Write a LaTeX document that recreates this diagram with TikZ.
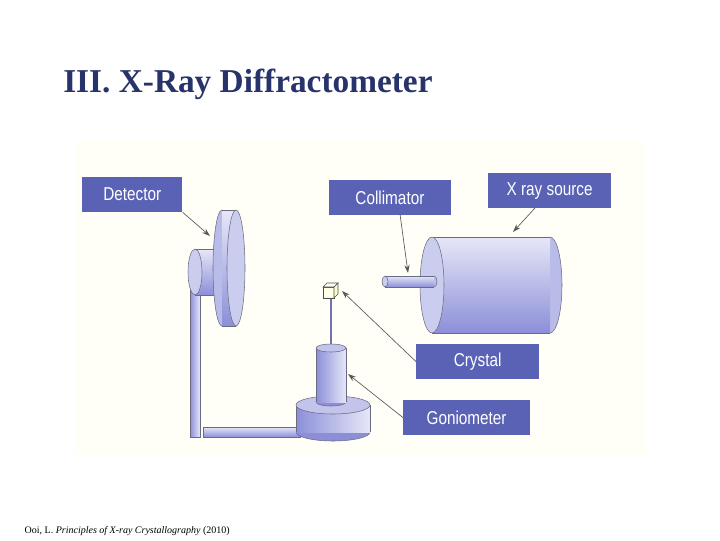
\documentclass[tikz,border=0pt]{standalone}
\usepackage{fontspec}
\setmainfont{Liberation Serif}
\newfontfamily\plainlab{Liberation Sans}[FakeStretch=0.82]
\usetikzlibrary{arrows.meta}
\definecolor{navy}{HTML}{27336A}
\definecolor{labblue}{HTML}{5A62B6}
\definecolor{cyl}{HTML}{8C8FD8}
\definecolor{cylL}{HTML}{E6E7F8}
\definecolor{edge}{HTML}{6A6A80}
% horizontal cylinder: x1 x2 cy rx ry ; front face drawn at #6
\newcommand{\myhcyl}[6]{%
  \fill[cylL!50!cyl,draw=edge] (#1+#2-#6,#3) ellipse (#4 and #5);
  \fill[top color=cylL,bottom color=cyl] (#1,#3-#5) rectangle (#2,#3+#5);
  \draw[edge] (#1,#3-#5) -- (#2,#3-#5) (#1,#3+#5) -- (#2,#3+#5);
  \fill[cylL!70!cyl,draw=edge] (#6,#3) ellipse (#4 and #5);}
% vertical cylinder: cx y1(top) y2(bottom) rx ry
\newcommand{\myvcyl}[5]{%
  \fill[cyl,draw=edge] (#1,#3) ellipse (#4 and #5);
  \fill[left color=cyl,right color=cylL] (#1-#4,#2) rectangle (#1+#4,#3);
  \draw[edge] (#1-#4,#2) -- (#1-#4,#3) (#1+#4,#2) -- (#1+#4,#3);
  \fill[cylL!60!cyl,draw=edge] (#1,#2) ellipse (#4 and #5);}
\begin{document}
\begin{tikzpicture}[x=0.75pt,y=-0.75pt,
  lab/.style={fill=labblue,text=white,font=\plainlab\fontsize{14}{15}\selectfont,inner sep=0pt,minimum height=26pt,anchor=north west},
  ptr/.style={draw=gray!70!black,line width=0.5pt,-{Stealth[length=6pt,width=4pt]}}]
\useasboundingbox (0,0) rectangle (720,540);
\fill[white] (0,0) rectangle (720,540);
\fill[yellow!3!white] (75,140) rectangle (645,455);
\node[anchor=base west,inner sep=0pt,text=navy,font=\bfseries\fontsize{25}{28}\selectfont] (title) at (63,92) {III. X-Ray Diffractometer};
% labels
\node[lab,minimum width=75pt] (det) at (82,177) {Detector};
\node[lab,minimum width=91pt] (col) at (329,180) {Collimator};
\node[lab,minimum width=92pt] (src) at (488,173) {X ray source};
\node[lab,minimum width=92pt] (cry) at (416,344) {Crystal};
\node[lab,minimum width=95pt] (gon) at (403,400) {Goniometer};
% detector post and rod
\fill[left color=cyl,right color=cylL,draw=edge] (190,290) rectangle (200,437);
\fill[top color=cylL,bottom color=cyl,draw=edge] (203,427) rectangle (300,437);
% hub
\myhcyl{195}{214}{272}{7}{23}{195}
% detector disk
\myhcyl{222}{236}{268}{9}{58}{236}
% X-ray source
\myhcyl{432}{550}{285}{12}{48}{432}
% collimator
\myhcyl{385}{434}{281.5}{3}{5.5}{385}
% goniometer base and upper cylinder
\myvcyl{333}{405}{432}{37}{9}
\myvcyl{331}{348}{402}{15}{4}
% crystal rod and cube
\draw[cyl!80!black,line width=1.5pt] (331,298) -- (331,344);
\draw[draw=black!70,fill=yellow!10!white] (323,287) rectangle (334,298);
\draw[draw=black!70,fill=yellow!5!white] (323,287) -- (327,283) -- (338,283) -- (334,287) -- cycle;
\draw[draw=black!70,fill=yellow!20!white] (334,287) -- (338,283) -- (338,294) -- (334,298) -- cycle;
\coordinate (detT) at (210,236);
\coordinate (colT) at (408,273);
\coordinate (srcT) at (513,232);
\coordinate (cryT) at (342,291);
\coordinate (gonT) at (348,374);
\draw[ptr] (det.south east) -- (detT);
\draw[ptr] (400,214) -- (colT);
\draw[ptr] (535,208) -- (srcT);
\draw[ptr] (cry.west) -- (cryT);
\draw[ptr] (gon.west) -- (gonT);
\node[anchor=base west,font=\fontsize{7.5}{9}\selectfont] (cite) at (20,533) {Ooi, L. \textit{Principles of X-ray Crystallography} (2010)};
\end{tikzpicture}
\end{document}
